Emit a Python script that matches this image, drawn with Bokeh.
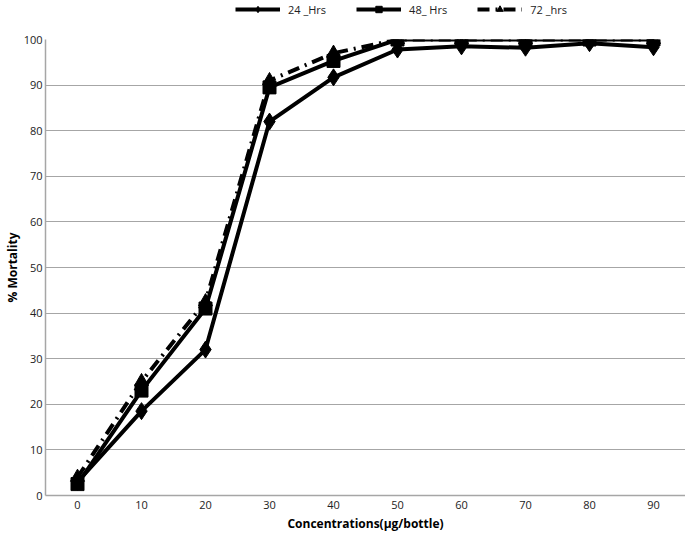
from bokeh.plotting import figure
from bokeh.models import Legend, LegendItem, FactorRange
from bokeh.layouts import column
from bokeh.embed import file_html
from bokeh.resources import INLINE

concentrations = ["0", "10", "20", "30", "40", "50", "60", "70", "80", "90"]
hrs24 = [3.0, 18.5, 32.0, 82.0, 91.7, 97.8, 98.5, 98.2, 99.2, 98.3]
hrs48 = [2.5, 23.0, 41.0, 89.5, 95.3, 100.0, 100.0, 100.0, 100.0, 100.0]
hrs72 = [4.0, 25.0, 42.5, 91.0, 97.0, 100.0, 100.0, 100.0, 100.0, 100.0]
y_ticks = [0, 10, 20, 30, 40, 50, 60, 70, 80, 90, 100]
series_labels = ["24 _Hrs", "48_ Hrs", "72 _hrs"]

FONT = "Open Sans"
LINE_W = 4
DASH72 = "12 6 2 6"

# ---------------- main chart ----------------
p = figure(frame_width=640, frame_height=456,
           x_range=FactorRange(*concentrations, range_padding=0),
           y_range=(0, 100), output_backend="svg", toolbar_location=None,
           min_border_left=0, min_border_right=0, min_border_top=9, min_border_bottom=0)
p.outline_line_color = None
p.xgrid.grid_line_color = None
p.ygrid.grid_line_color = "#a6a6a6"
p.ygrid.grid_line_width = 1.2
p.yaxis.ticker = y_ticks

for ax in (p.xaxis[0], p.yaxis[0]):
    ax.axis_line_color = "#a6a6a6"
    ax.axis_line_width = 1.5
    ax.major_tick_line_color = None
    ax.minor_tick_line_color = None
    ax.major_tick_out = 0
    ax.major_tick_in = 0
    ax.major_label_text_font = FONT
    ax.major_label_text_font_size = "11px"
    ax.major_label_text_color = "#222222"
    ax.axis_label_text_font = FONT
    ax.axis_label_text_font_size = "12px"
    ax.axis_label_text_font_style = "bold"
    ax.axis_label_text_color = "#000000"
    ax.major_label_standoff = 3
    ax.axis_label_standoff = 0

p.xaxis.major_label_standoff = 5
p.xaxis.axis_label_standoff = 3
p.xaxis.axis_label = "Concentrations(µg/bottle)"
p.yaxis.axis_label = "% Mortality"


def draw_series(fig):
    out = []
    out.append((fig.line(concentrations, hrs24, line_color="black", line_width=LINE_W),
                fig.scatter(concentrations, hrs24, marker="diamond", size=17, color="black")))
    out.append((fig.line(concentrations, hrs48, line_color="black", line_width=LINE_W),
                fig.scatter(concentrations, hrs48, marker="square", size=13, color="black")))
    out.append((fig.line(concentrations, hrs72, line_color="black", line_width=LINE_W, line_dash=DASH72),
                fig.scatter(concentrations, hrs72, marker="triangle", size=14, color="black")))
    return out


draw_series(p)

# ---------------- legend strip (series kept out of its view) ----------------
lg = figure(width=684, height=30, x_range=FactorRange(*concentrations, range_padding=0),
            y_range=(1000, 1001), x_axis_type=None, y_axis_type=None, output_backend="svg",
            toolbar_location=None, min_border=0)
lg.outline_line_color = None
lg.grid.grid_line_color = None
r = draw_series(lg)
legend = Legend(items=[LegendItem(label=lab, renderers=list(rr)) for lab, rr in zip(series_labels, r)],
                orientation="horizontal", location=(190, 13))
legend.border_line_color = None
legend.background_fill_alpha = 0
legend.label_text_font = FONT
legend.label_text_font_size = "11px"
legend.label_text_color = "#222222"
legend.glyph_width = 45
legend.glyph_height = 16
legend.spacing = 30
legend.padding = 0
legend.margin = 0
legend.label_standoff = 8
lg.add_layout(legend, "center")

layout = column(lg, p, spacing=0)
open("out.html", "w").write(file_html(layout, INLINE))
